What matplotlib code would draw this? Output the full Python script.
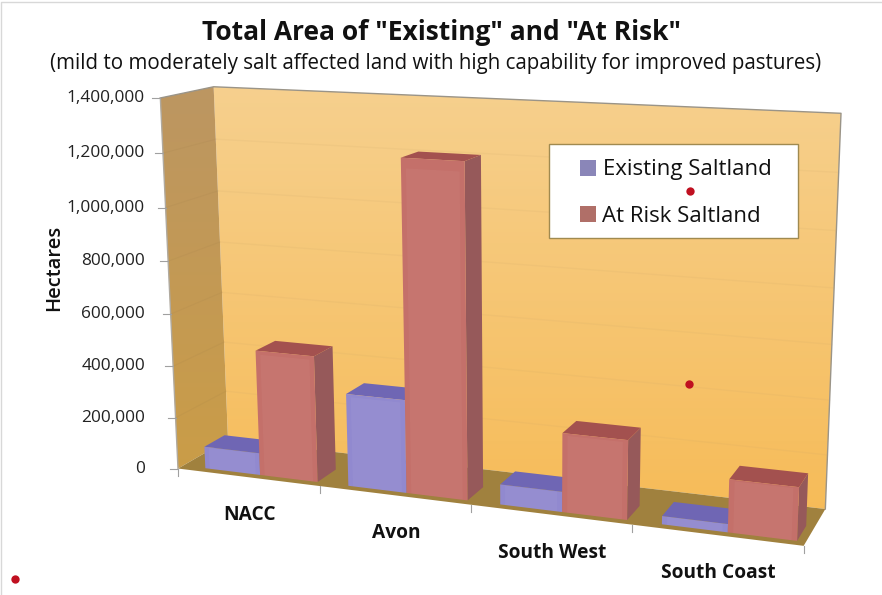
import numpy as np
import matplotlib
matplotlib.use("Agg")
from matplotlib import pyplot as plt
from matplotlib.patches import Polygon, Rectangle

categories = ["NACC", "Avon", "South West", "South Coast"]
existing = [85000, 350000, 75000, 30000]
at_risk = [480000, 1225000, 290000, 190000]
y_ticks = [0, 200000, 400000, 600000, 800000, 1000000, 1200000, 1400000]
y_max = 1400000
dots = [(15, 579), (690, 191), (689, 384)]

# corners of the chart box: (category, depth, height) -> picture pixels
box_points = [
    ((0, 0, 0), (178, 471)), ((1, 0, 0), (804, 543)),
    ((0, 1, 0), (228, 437)), ((1, 1, 0), (825, 512)),
    ((0, 0, 1), (160, 98)), ((0, 1, 1), (214, 87)), ((1, 1, 1), (841, 113)),
]


def fit_camera(points):
    rows = []
    for (X, Y, Z), (x, y) in points:
        rows.append([X, Y, Z, 1, 0, 0, 0, 0, -x * X, -x * Y, -x * Z, -x])
        rows.append([0, 0, 0, 0, X, Y, Z, 1, -y * X, -y * Y, -y * Z, -y])
    return np.linalg.svd(np.array(rows, dtype=float))[2][-1].reshape(3, 4)


camera = fit_camera(box_points)


def project(u, d, h):
    # u in categories (0..4), d depth (0..1), h in hectares
    p = camera @ np.array([u / len(categories), d, h / y_max, 1.0])
    return p[0] / p[2], p[1] / p[2]


def face(ax, corners, color, zorder=3, **kw):
    ax.add_patch(Polygon([project(*c) for c in corners], closed=True, facecolor=color,
                         edgecolor=kw.pop("edgecolor", "none"), zorder=zorder, **kw))


def gradient_face(ax, corners, top_color, bottom_color, zorder=1):
    poly = Polygon([project(*c) for c in corners], closed=True, transform=ax.transData,
                   facecolor="none", edgecolor="none")
    ax.add_patch(poly)
    top = np.array(top_color) / 255
    bottom = np.array(bottom_color) / 255
    t = np.linspace(0, 1, 128)[:, None, None]
    img = (top[None, None, :] * (1 - t) + bottom[None, None, :] * t)
    im = ax.imshow(img, extent=(0, 882, 545, 85), aspect="auto", zorder=zorder)
    im.set_clip_path(poly)


def draw_bar(ax, left, right, value, front, side, top):
    d0, d1 = 0.1, 0.5
    face(ax, [(right, d0, 0), (right, d1, 0), (right, d1, value), (right, d0, value)], side)
    face(ax, [(left, d0, value), (right, d0, value), (right, d1, value), (left, d1, value)], top)
    face(ax, [(left, d0, 0), (right, d0, 0), (right, d0, value), (left, d0, value)], front)
    # soft lighter band on the front face
    inset = (right - left) * 0.08
    face(ax, [(left + inset, d0, 0), (right - inset, d0, 0),
              (right - inset, d0, value * 0.97), (left + inset, d0, value * 0.97)],
         "white", alpha=0.04)


fig = plt.figure(figsize=(8.82, 5.95), dpi=100)
ax = fig.add_axes([0, 0, 1, 1])
ax.set_xlim(0, 882)
ax.set_ylim(595, 0)
ax.axis("off")

n = len(categories)

# walls and floor
gradient_face(ax, [(0, 1, 0), (n, 1, 0), (n, 1, y_max), (0, 1, y_max)], (246, 208, 142), (246, 186, 84))
gradient_face(ax, [(0, 0, 0), (0, 1, 0), (0, 1, y_max), (0, 0, y_max)], (188, 150, 98), (205, 158, 66))
face(ax, [(0, 0, 0), (n, 0, 0), (n, 1, 0), (0, 1, 0)], "#a0813e", zorder=2)
ax.plot(*zip(project(0, 0, y_max), project(0, 1, y_max), project(n, 1, y_max), project(n, 1, 0)),
        color="#9a9488", lw=1.0, zorder=2)
ax.plot(*zip(project(0, 0, 0), project(0, 0, y_max)), color="#b0aaa0", lw=1.0, zorder=2)

# faint gridlines
for v in y_ticks[1:-1]:
    ax.plot(*zip(project(0, 1, v), project(n, 1, v)), color="#c9a468", lw=1.0, alpha=0.12, zorder=2)
    ax.plot(*zip(project(0, 0, v), project(0, 1, v)), color="#9a7a48", lw=0.8, alpha=0.12, zorder=2)

# bars
for i in range(n):
    draw_bar(ax, i + 0.16, i + 0.55, existing[i], "#9189cf", "#7d74b8", "#6f66b4")
    draw_bar(ax, i + 0.55, i + 0.95, at_risk[i], "#c4706a", "#96595a", "#a3514f")

# axis ticks and labels
for v in y_ticks:
    x, y = project(0, 0, v)
    ax.plot([x - 8, x], [y, y], color="#a0a0a0", lw=0.8, zorder=4)
    ax.text(145, y, f"{v:,}", ha="right", va="center", fontsize=12.4, family="Open Sans", color="#222222")
for i in range(n + 1):
    x, y = project(i, 0, 0)
    ax.plot([x, x], [y, y + 7], color="#a0a0a0", lw=0.8, zorder=4)
for i, name in enumerate(categories):
    x, y = project(i + 0.5, 0, 0)
    ax.text(x + 2, y + 38, name, ha="center", va="center", fontsize=13.8, fontweight="bold",
            family="Open Sans", color="#111111")

ax.text(441, 33, 'Total Area of "Existing" and "At Risk"', ha="center", va="center",
        fontsize=19, fontweight="bold", family="Open Sans", color="#111111")
ax.text(436, 64, "(mild to moderately salt affected land with high capability for improved pastures)",
        ha="center", va="center", fontsize=14.8, family="Open Sans", color="#111111")
ax.text(54, 268, "Hectares", ha="center", va="center", rotation=90, fontsize=14.5,
        fontweight="semibold", family="Open Sans", color="#111111")

# legend
ax.add_patch(Rectangle((549, 144), 249, 94, facecolor="white", edgecolor="#a08a50", lw=1.0, zorder=5))
ax.add_patch(Rectangle((580, 160), 16, 16, facecolor="#8a86b8", edgecolor="none", zorder=6))
ax.add_patch(Rectangle((580, 206), 16, 16, facecolor="#b06f68", edgecolor="none", zorder=6))
ax.text(603, 170, "Existing Saltland", va="center", fontsize=16, family="Open Sans", color="#111111", zorder=6)
ax.text(602, 216, "At Risk Saltland", va="center", fontsize=16, family="Open Sans", color="#111111", zorder=6)

# stray red dots in the picture
ax.scatter([d[0] for d in dots], [d[1] for d in dots], s=36, color="#c01020", zorder=7, linewidths=0)

# thin frame of the slide
ax.plot([1, 1, 881], [595, 2, 2], color="#d8d8d8", lw=1.0, zorder=0)

ax.set_xlim(0, 882)
ax.set_ylim(595, 0)
fig.savefig("out.png", dpi=100)
